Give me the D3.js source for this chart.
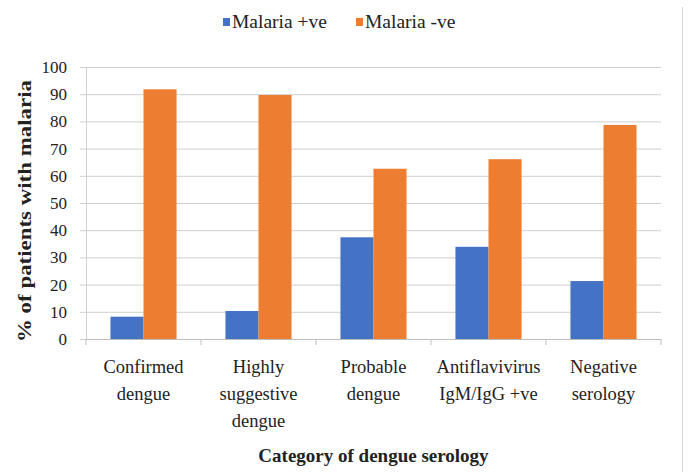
<!DOCTYPE html>
<html>
<head>
<meta charset="utf-8">
<script src="https://cdn.jsdelivr.net/npm/d3@7"></script>
<style>
  body { margin: 0; background: #fff; }
  svg text { font-family: "Liberation Serif", "Times New Roman", serif; fill: #222; }
</style>
</head>
<body>
<svg id="chart" width="691" height="472"></svg>
<script>
const categoryLines = [
  ['Confirmed', 'dengue'],
  ['Highly', 'suggestive', 'dengue'],
  ['Probable', 'dengue'],
  ['Antiflavivirus', 'IgM/IgG +ve'],
  ['Negative', 'serology']
];
const categories = categoryLines.map(l => l.join(' '));
const seriesNames = ['Malaria +ve', 'Malaria -ve'];
const malariaPos = [8.2, 10.3, 37.4, 33.9, 21.3];
const malariaNeg = [91.8, 89.7, 62.6, 66.1, 78.7];
const yTicks = [0, 10, 20, 30, 40, 50, 60, 70, 80, 90, 100];
const colors = ['#4472C4', '#ED7D31'];

const width = 691, height = 472;
const margin = { top: 67, right: 30, bottom: 133, left: 86 };
const serif = '"Liberation Serif", "Times New Roman", serif';

const svg = d3.select('#chart');

const x = d3.scaleBand()
  .domain(categories)
  .range([margin.left, width - margin.right])
  .padding(0);

const xSub = d3.scaleBand()
  .domain(seriesNames)
  .range([0, x.bandwidth()])
  .paddingInner(0)
  .paddingOuter(0.74);

const y = d3.scaleLinear()
  .domain([0, 100])
  .range([height - margin.bottom, margin.top]);

// right frame line
svg.append('line')
  .attr('x1', 682.5).attr('x2', 682.5)
  .attr('y1', 7).attr('y2', height)
  .attr('stroke', '#d6d6d6');

// gridlines + y axis
const yAxis = svg.append('g')
  .attr('transform', 'translate(' + margin.left + ',0)')
  .call(d3.axisLeft(y).tickValues(yTicks).tickSize(6).tickPadding(13));
yAxis.attr('font-family', serif);
yAxis.select('.domain').attr('stroke', '#d0d0d0');
yAxis.selectAll('.tick line').attr('stroke', '#cfcfcf');
yAxis.selectAll('.tick text')
  .style('font-family', serif)
  .style('font-size', '17px')
  .attr('fill', '#222');
yAxis.selectAll('.tick')
  .append('line')
  .attr('x1', 0)
  .attr('x2', width - margin.right - margin.left)
  .attr('stroke', '#cfcfcf');

// bars
const series = [malariaPos, malariaNeg];
const groups = svg.append('g')
  .selectAll('g')
  .data(categories)
  .enter()
  .append('g')
  .attr('transform', d => 'translate(' + x(d) + ',0)');

groups.selectAll('rect')
  .data((d, i) => seriesNames.map((s, j) => ({ s: s, v: series[j][i], j: j })))
  .enter()
  .append('rect')
  .attr('x', d => xSub(d.s))
  .attr('width', xSub.bandwidth())
  .attr('y', d => y(d.v))
  .attr('height', d => y(0) - y(d.v))
  .attr('fill', d => colors[d.j]);

// x axis
const xAxis = svg.append('g')
  .attr('transform', 'translate(0,' + (height - margin.bottom) + ')')
  .call(d3.axisBottom(x).tickSize(0).tickFormat(''));
xAxis.select('.domain').attr('stroke', '#bdbdbd');

svg.append('g')
  .selectAll('line')
  .data(d3.range(categories.length + 1))
  .enter()
  .append('line')
  .attr('x1', i => margin.left + i * x.step())
  .attr('x2', i => margin.left + i * x.step())
  .attr('y1', height - margin.bottom)
  .attr('y2', height - margin.bottom + 6)
  .attr('stroke', '#bdbdbd');

// category labels
const labels = svg.append('g')
  .selectAll('text')
  .data(categoryLines)
  .enter()
  .append('text')
  .attr('x', (d, i) => x(categories[i]) + x.bandwidth() / 2)
  .attr('y', 373)
  .attr('text-anchor', 'middle')
  .style('font-family', serif)
  .style('font-size', '18.5px');
labels.selectAll('tspan')
  .data(d => d)
  .enter()
  .append('tspan')
  .attr('x', function () { return d3.select(this.parentNode).attr('x'); })
  .attr('dy', (d, i) => i === 0 ? 0 : 27)
  .text(d => d);

// axis titles
svg.append('text')
  .attr('x', (margin.left + width - margin.right) / 2)
  .attr('y', 462)
  .attr('text-anchor', 'middle')
  .style('font-family', serif)
  .style('font-size', '19px')
  .style('font-weight', 'bold')
  .text('Category of dengue serology');

svg.append('text')
  .attr('transform', 'translate(31,' + 211 + ') rotate(-90)')
  .attr('text-anchor', 'middle')
  .style('font-family', serif)
  .style('font-size', '18px')
  .style('font-weight', 'bold')
  .attr('textLength', 262)
  .attr('lengthAdjust', 'spacingAndGlyphs')
  .text('% of patients with malaria');

// legend
const legend = svg.append('g');
const legendX = [223, 356];
seriesNames.forEach((s, i) => {
  legend.append('rect')
    .attr('x', legendX[i])
    .attr('y', 18)
    .attr('width', 7)
    .attr('height', 8)
    .attr('fill', colors[i]);
  legend.append('text')
    .attr('x', legendX[i] + 9)
    .attr('y', 28)
    .style('font-family', serif)
    .style('font-size', '19.5px')
    .text(s);
});
</script>
</body>
</html>
